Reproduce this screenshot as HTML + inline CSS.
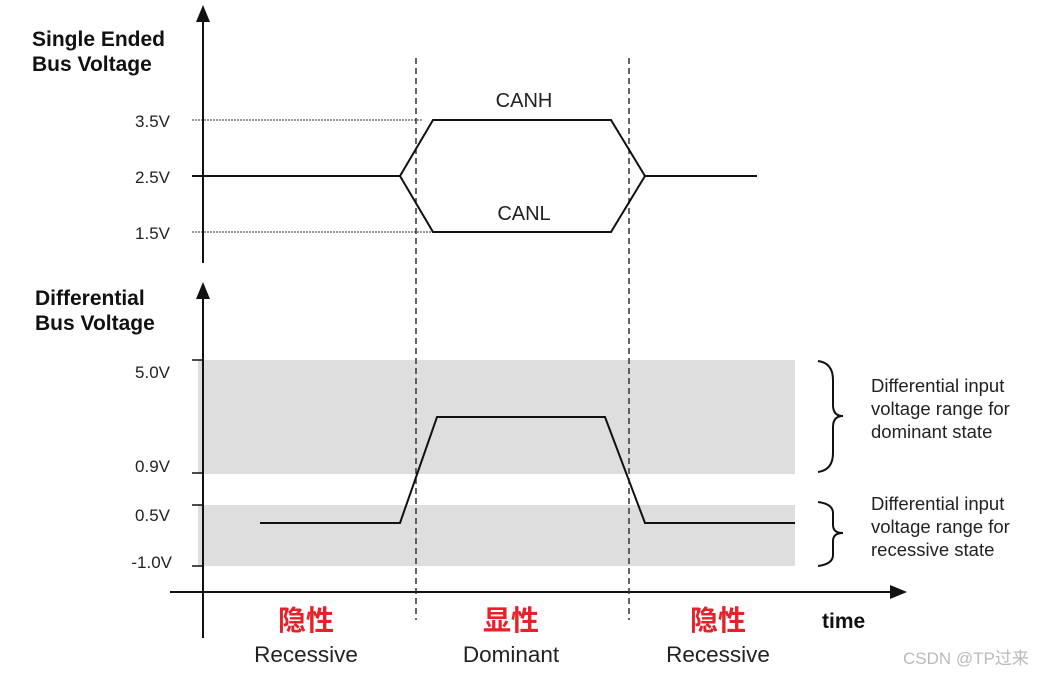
<!DOCTYPE html>
<html><head><meta charset="utf-8"><style>
html,body{margin:0;padding:0;background:#fff;}
svg{display:block;}
text{font-family:"Liberation Sans","Noto Sans CJK SC",sans-serif;}
</style></head><body>
<svg width="1038" height="675" viewBox="0 0 1038 675" xmlns="http://www.w3.org/2000/svg">
<rect x="198" y="360" width="597" height="114" fill="#dedede"/>
<rect x="198" y="505" width="597" height="61" fill="#dedede"/>
<line x1="203" y1="18" x2="203" y2="263" stroke="#111" stroke-width="2"/>
<polygon points="196,22 210,22 203,5" fill="#111"/>
<line x1="203" y1="295" x2="203" y2="638" stroke="#111" stroke-width="2"/>
<polygon points="196,299 210,299 203,282" fill="#111"/>
<line x1="170" y1="592" x2="892" y2="592" stroke="#111" stroke-width="2"/>
<polygon points="890,585 890,599 907,592" fill="#111"/>
<g stroke="#111" stroke-width="1.5">
<line x1="192" y1="176" x2="203" y2="176"/>
<line x1="192" y1="360" x2="203" y2="360"/>
<line x1="192" y1="473" x2="203" y2="473"/>
<line x1="192" y1="505" x2="203" y2="505"/>
<line x1="192" y1="566" x2="203" y2="566"/>
</g>
<line x1="192" y1="120" x2="422" y2="120" stroke="#333" stroke-width="1" stroke-dasharray="2,1"/>
<line x1="192" y1="232" x2="432" y2="232" stroke="#333" stroke-width="1" stroke-dasharray="2,1"/>
<line x1="416" y1="58" x2="416" y2="620" stroke="#333" stroke-width="1.5" stroke-dasharray="6,4"/>
<line x1="629" y1="58" x2="629" y2="620" stroke="#333" stroke-width="1.5" stroke-dasharray="6,4"/>
<g fill="none" stroke="#111" stroke-width="2">
<polyline points="192,176 400,176 433,120 611,120 645,176 757,176"/>
<polyline points="400,176 433,232 611,232 645,176"/>
<polyline points="260,523 400,523 437,417 605,417 645,523 795,523"/>
<path d="M818,361 Q833,363 833,380 L833,405 Q833,416 843,416 Q833,416 833,427 L833,453 Q833,470 818,472"/>
<path d="M818,502 Q833,504 833,513 L833,525 Q833,533 843,533 Q833,533 833,541 L833,555 Q833,564 818,566"/>
</g>
<g font-size="17" fill="#222" text-anchor="end">
<text x="170" y="127">3.5V</text>
<text x="170" y="183">2.5V</text>
<text x="170" y="239">1.5V</text>
<text x="170" y="378">5.0V</text>
<text x="170" y="472">0.9V</text>
<text x="170" y="521">0.5V</text>
<text x="172" y="568">-1.0V</text>
</g>
<g font-size="21" font-weight="bold" fill="#111">
<text x="32" y="46">Single Ended</text>
<text x="32" y="71">Bus Voltage</text>
<text x="35" y="305">Differential</text>
<text x="35" y="330">Bus Voltage</text>
<text x="822" y="628">time</text>
</g>
<g font-size="20" fill="#222" text-anchor="middle">
<text x="524" y="107">CANH</text>
<text x="524" y="220">CANL</text>
</g>
<g font-size="18.5" fill="#222">
<text x="871" y="392">Differential input</text>
<text x="871" y="415">voltage range for</text>
<text x="871" y="438">dominant state</text>
<text x="871" y="510">Differential input</text>
<text x="871" y="533">voltage range for</text>
<text x="871" y="556">recessive state</text>
</g>
<g font-size="28" font-weight="bold" fill="#e8202a" text-anchor="middle">
<text x="306" y="630">隐性</text>
<text x="511" y="630">显性</text>
<text x="718" y="630">隐性</text>
</g>
<g font-size="22.5" fill="#222" text-anchor="middle">
<text x="306" y="662">Recessive</text>
<text x="511" y="662">Dominant</text>
<text x="718" y="662">Recessive</text>
</g>
<text x="903" y="664" font-size="17" fill="#bbb">CSDN @TP过来</text>
</svg>
</body></html>
